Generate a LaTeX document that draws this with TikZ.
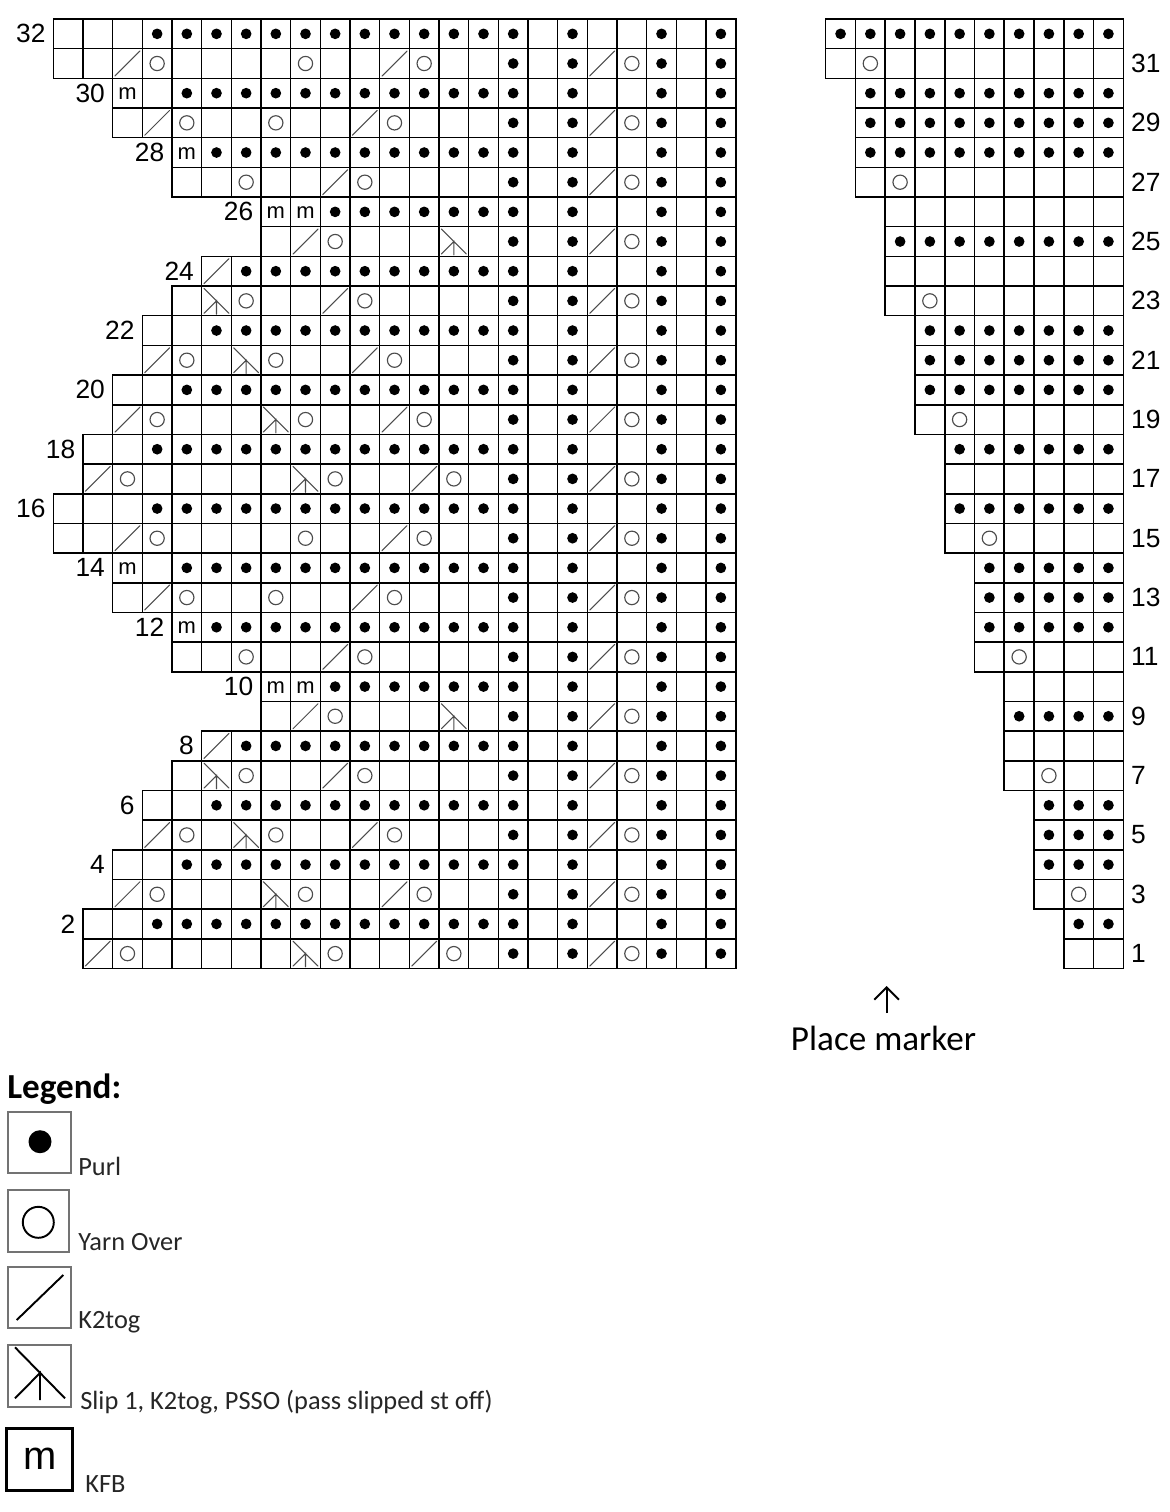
\documentclass[tikz,border=0pt]{standalone}
\usepackage{fontspec}
\setmainfont{Liberation Sans}
\newfontfamily\calib{Carlito}
\usetikzlibrary{arrows.meta}
\tikzset{
  cellb/.style={draw=black, line width=0.9pt},
  yo/.style={draw=black!70, line width=0.65pt},
  sym/.style={draw=black!70, line width=0.6pt, line cap=round},
  purl/.style={fill=black},
  mk/.style={font=\fontsize{12.5}{14}\selectfont, inner sep=0pt},
  rownum/.style={font=\fontsize{15}{18}\selectfont, inner sep=0pt},
  legbox/.style={draw=black!55, line width=1.1pt},
  legsym/.style={draw=black, line width=1.1pt},
  legtext/.style={font=\calib\fontsize{15}{18}\selectfont, text=black!85, inner sep=0pt, anchor=base west},
}
\newcommand\KCcell[2]{\draw[cellb] ({#1-1},{#2}) rectangle ++(1,1);}
\newcommand\KCrow[2]{\foreach \cc in {#1,...,23}{\KCcell{\cc}{#2}}}
\newcommand\KCpu[2]{\fill[purl] ({#1-0.5},{#2+0.5}) circle (0.18);}
\newcommand\KCyo[2]{\draw[yo] ({#1-0.5},{#2+0.5}) circle (0.24);}
\newcommand\KCkt[2]{\draw[sym] ({#1-0.92},{#2+0.92}) -- ({#1-0.08},{#2+0.08});}
\newcommand\KCsk[2]{\draw[sym] ({#1-0.92},{#2+0.08}) -- ({#1-0.08},{#2+0.92}) ({#1-0.92},{#2+0.92}) -- ({#1-0.5},{#2+0.5}) -- ({#1-0.5},{#2+0.95});}
\newcommand\KCmk[3]{\node[mk] (#3) at ({#1-0.5},{#2+0.52}) {m};}
\newcommand\KCev[2]{\foreach \cc in {#1,...,16}{\KCpu{\cc}{#2}}\KCpu{18}{#2}\KCpu{21}{#2}\KCpu{23}{#2}}
\newcommand\KCod[1]{\KCpu{16}{#1}\KCpu{18}{#1}\KCpu{21}{#1}\KCpu{23}{#1}\KCkt{19}{#1}\KCyo{20}{#1}}
\newcommand\KClb[2]{\pgfmathtruncatemacro\KCn{32-(#2)}\node[rownum,anchor=east] (lb\KCn) at ({#1-1.25},{#2+0.5}) {\KCn};}
\newcommand\KCblock[1]{%
 \KCrow{1}{#1+0}\KCev{4}{#1+0}\KClb{1}{#1+0}
 \KCrow{1}{#1+1}\KCod{#1+1}\KCkt{3}{#1+1}\KCyo{4}{#1+1}\KCyo{9}{#1+1}\KCkt{12}{#1+1}\KCyo{13}{#1+1}
 \KCrow{3}{#1+2}\KCev{5}{#1+2}\KCmk{3}{#1+2}{ma#1}\KClb{3}{#1+2}
 \KCrow{3}{#1+3}\KCod{#1+3}\KCkt{4}{#1+3}\KCyo{5}{#1+3}\KCyo{8}{#1+3}\KCkt{11}{#1+3}\KCyo{12}{#1+3}
 \KCrow{5}{#1+4}\KCev{6}{#1+4}\KCmk{5}{#1+4}{mb#1}\KClb{5}{#1+4}
 \KCrow{5}{#1+5}\KCod{#1+5}\KCyo{7}{#1+5}\KCkt{10}{#1+5}\KCyo{11}{#1+5}
 \KCrow{8}{#1+6}\KCev{10}{#1+6}\KCmk{8}{#1+6}{mc#1}\KCmk{9}{#1+6}{md#1}\KClb{8}{#1+6}
 \KCrow{8}{#1+7}\KCod{#1+7}\KCkt{9}{#1+7}\KCyo{10}{#1+7}\KCsk{14}{#1+7}
 \KCrow{6}{#1+8}\KCev{7}{#1+8}\KCkt{6}{#1+8}\KClb{6}{#1+8}
 \KCrow{5}{#1+9}\KCod{#1+9}\KCsk{6}{#1+9}\KCyo{7}{#1+9}\KCkt{10}{#1+9}\KCyo{11}{#1+9}
 \KCrow{4}{#1+10}\KCev{6}{#1+10}\KClb{4}{#1+10}
 \KCrow{4}{#1+11}\KCod{#1+11}\KCkt{4}{#1+11}\KCyo{5}{#1+11}\KCsk{7}{#1+11}\KCyo{8}{#1+11}\KCkt{11}{#1+11}\KCyo{12}{#1+11}
 \KCrow{3}{#1+12}\KCev{5}{#1+12}\KClb{3}{#1+12}
 \KCrow{3}{#1+13}\KCod{#1+13}\KCkt{3}{#1+13}\KCyo{4}{#1+13}\KCsk{8}{#1+13}\KCyo{9}{#1+13}\KCkt{12}{#1+13}\KCyo{13}{#1+13}
 \KCrow{2}{#1+14}\KCev{4}{#1+14}\KClb{2}{#1+14}
 \KCrow{2}{#1+15}\KCod{#1+15}\KCkt{2}{#1+15}\KCyo{3}{#1+15}\KCsk{9}{#1+15}\KCyo{10}{#1+15}\KCkt{13}{#1+15}\KCyo{14}{#1+15}
}
\begin{document}
\begin{tikzpicture}[x=0.02cm,y=-0.02cm]
\useasboundingbox (0,0) rectangle (1170,1512);
\fill[white] (0,0) rectangle (1170,1512);
% left chart
\begin{scope}[shift={(53.3,19)},scale=29.67]
\KCblock{0}
\KCblock{16}
\end{scope}
% right chart
\begin{scope}[shift={(825.7,19)},xscale=29.76,yscale=29.67]
\foreach \k/\s/\t in {0/1/1,1/1/2,2/2/1,3/2/1,4/2/1,5/2/2,6/3/0,7/3/1,8/3/0,9/3/2,10/4/1,11/4/1,12/4/1,13/4/2,14/5/1,15/5/0,16/5/1,17/5/2,18/6/1,19/6/1,20/6/1,21/6/2,22/7/0,23/7/1,24/7/0,25/7/2,26/8/1,27/8/1,28/8/1,29/8/2,30/9/1,31/9/0}{
  \foreach \cc in {\s,...,10}{\draw[cellb] ({\cc-1},\k) rectangle ++(1,1);
    \ifnum\t=1 \fill[purl] ({\cc-0.5},{\k+0.5}) circle (0.18);\fi}
  \ifnum\t=2 \draw[yo] ({\s+0.5},{\k+0.5}) circle (0.24);\fi
}
\foreach \k in {1,3,...,31}{\pgfmathtruncatemacro\KCn{32-\k}\node[rownum,anchor=west] (rl\KCn) at (10.25,{\k+0.5}) {\KCn};}
\end{scope}
% place marker
\coordinate (pmb) at (886.7,1013);
\coordinate (pmt) at (886.7,986);
\draw[line width=1.1pt,-{Straight Barb[length=7pt,width=14pt]}] (pmb) -- (pmt);
\node[font=\calib\fontsize{20}{24}\selectfont, inner sep=0pt, anchor=base] (pm) at (883.5,1050) {Place marker};
% legend
\node[font=\calib\bfseries\fontsize{20}{24}\selectfont, anchor=base west, inner sep=0pt] (legend) at (7,1098) {Legend:};
\draw[legbox] (8.3,1111.7) rectangle (70.7,1172.7);
\fill (40,1141.7) circle (11.5);
\node[legtext] (tpurl) at (78,1175) {Purl};
\draw[legbox] (8,1190) rectangle (69,1251.7);
\draw[legsym] (38.3,1222.3) circle (15.5);
\node[legtext] (tyo) at (78,1250) {Yarn Over};
\draw[legbox] (8,1266.7) rectangle (71,1328.3);
\draw[legsym] (16.7,1320) -- (63.3,1275);
\node[legtext] (tk2) at (78,1328) {K2tog};
\draw[legbox] (8,1345) rectangle (71,1406.7);
\draw[legsym] (15,1347.3) -- (65,1398.3) (15,1398.3) -- (40,1373) -- (40,1400);
\node[legtext] (tsk) at (80,1409) {Slip 1, K2tog, PSSO (pass slipped st off)};
\draw[draw=black, line width=1.7pt] (6.7,1428) rectangle (72.7,1490);
\node[font=\fontsize{22.7}{26}\selectfont, inner sep=0pt] (mleg) at (40,1459) {m};
\node[legtext] (tkfb) at (85,1492) {KFB};
\end{tikzpicture}
\end{document}
